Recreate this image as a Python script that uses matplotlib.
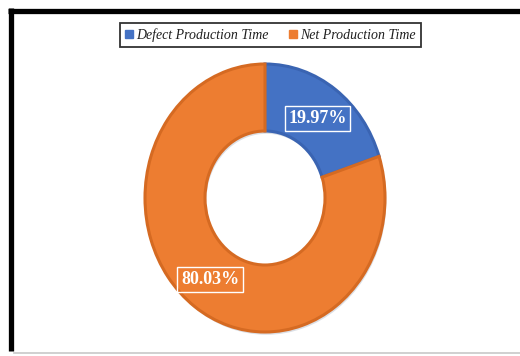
import matplotlib
matplotlib.use("Agg")
import matplotlib.pyplot as plt
from matplotlib.lines import Line2D
from matplotlib.patches import Patch
import matplotlib.patheffects as pe

categories = ["Defect Production Time", "Net Production Time"]
shares = [19.97, 80.03]
labels = ["19.97%", "80.03%"]
fills = ["#4472C4", "#ED7D31"]
edges = ["#3A64B2", "#D56A22"]

W, H = 520, 356
fig = plt.figure(figsize=(W / 100, H / 100), dpi=100)
fig.patch.set_facecolor("white")

# donut axes: slightly taller than wide, giving an elliptical ring
cx, cy, rx, ry = 265, 198, 120, 134
ax = fig.add_axes([(cx - rx) / W, (H - cy - ry) / H, 2 * rx / W, 2 * ry / H])
wedges, _ = ax.pie(
    shares, colors=fills, startangle=90, counterclock=False, radius=1.0,
    wedgeprops=dict(width=0.5, linewidth=2.2),
)
for w, ec in zip(wedges, edges):
    w.set_edgecolor(ec)
    w.set_path_effects([
        pe.SimplePatchShadow(offset=(1, -2), shadow_rgbFace="#9aa6b8", alpha=0.35),
        pe.Normal(),
    ])
ax.set_aspect("auto")
ax.set_xlim(-1, 1)
ax.set_ylim(-1, 1)
ax.axis("off")

# value labels in outlined boxes
label_pos = [(317.5, 118.5), (210, 279.5)]
for (px, py), txt in zip(label_pos, labels):
    fig.text(px / W, 1 - py / H, txt, ha="center", va="center",
             family="Liberation Serif", fontweight="bold", fontsize=13,
             color="white",
             bbox=dict(boxstyle="square,pad=0.2", fc="none", ec="white", lw=1.0))

# legend
handles = [Patch(facecolor=c, edgecolor=c) for c in fills]
leg = fig.legend(handles, categories, loc="center", bbox_to_anchor=(270.5 / W, 1 - 35 / H),
                 ncol=2, frameon=True, fancybox=False, handlelength=0.55, handleheight=0.55,
                 handletextpad=0.25, columnspacing=1.5, borderpad=0.35,
                 prop=dict(family="Liberation Serif", style="italic", size=10))
leg.get_frame().set_edgecolor("black")
leg.get_frame().set_linewidth(1.3)
for t in leg.get_texts():
    t.set_color("#1f1f1f")

# outer frame (top and left visible, lower edge faint)
fig.add_artist(Line2D([8 / W, 1.0], [1 - 11 / H, 1 - 11 / H], transform=fig.transFigure,
                      color="black", lw=3.8, solid_capstyle="butt"))
fig.add_artist(Line2D([11 / W, 11 / W], [1 - 8 / H, 1 - 351 / H], transform=fig.transFigure,
                      color="black", lw=3.8, solid_capstyle="butt"))
fig.add_artist(Line2D([14 / W, 1.0], [1 - 353 / H, 1 - 353 / H], transform=fig.transFigure,
                      color="#c8c8c8", lw=1.2))

fig.savefig("out.png", dpi=100)
